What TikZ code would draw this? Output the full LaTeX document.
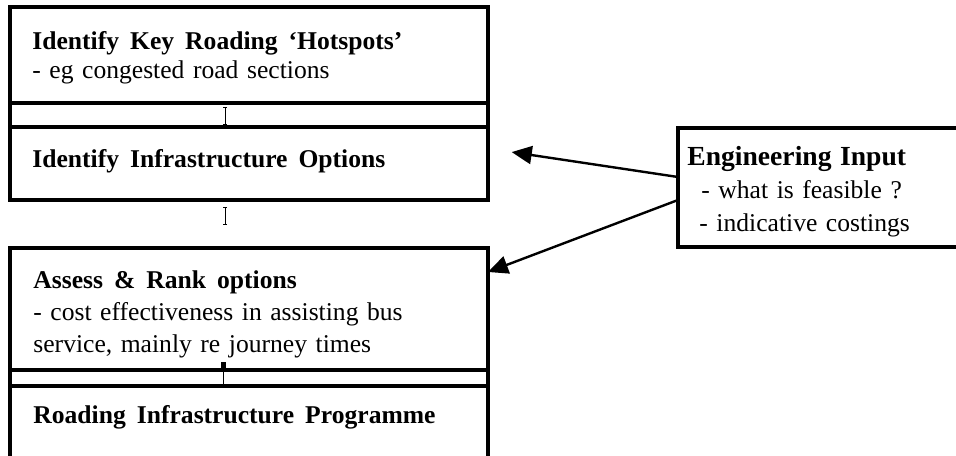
\documentclass[tikz,border=0pt]{standalone}
\usepackage{fontspec}
\setmainfont{Liberation Serif}
\usetikzlibrary{arrows.meta,positioning}

\newcommand{\stage}[1]{{\bfseries\spaceskip=0.43em\relax #1}}

\begin{document}
\begin{tikzpicture}[x=0.5pt,y=-0.5pt,
  box/.style={draw,line width=1.6pt,outer sep=0pt,inner sep=0pt,minimum width=239pt},
  txt/.style={inner sep=0pt,align=left,text width=230pt,font=\fontsize{12.8}{14.5}\selectfont},
  frame/.style={line width=1.6pt},
  tick/.style={line width=0.5pt,{Bar[width=2pt]}-{Bar[width=2pt]}},
  ar/.style={-{Triangle[length=10pt,width=9pt]},line width=1.2pt}]
  \useasboundingbox (0,0) rectangle (956,455);
  \clip (0,0) rectangle (956,455);
  % stages
  \node[box,minimum height=48pt,anchor=north west] (hot) at (10,7) {};
  \node[box,minimum height=36.5pt,below=12pt of hot] (opt) {};
  \node[box,minimum height=61pt,below=24pt of opt] (rank) {};
  \node[box,minimum height=42pt,below=8pt of rank] (prog) {};
  \draw[frame] (hot.south west) -- (opt.north west) (hot.south east) -- (opt.north east);
  \draw[frame] (rank.south west) -- (prog.north west) (rank.south east) -- (prog.north east);
  \node[txt,below right=21pt and 11pt of hot.north west,anchor=base west] (hotT)
    {\stage{Identify Key Roading `Hotspots'}\\- eg congested road sections};
  \node[txt,below right=20pt and 11pt of opt.north west,anchor=base west] (optT)
    {\stage{Identify Infrastructure Options}};
  \node[txt,font=\fontsize{12.8}{16}\selectfont,below right=20pt and 11.5pt of rank.north west,anchor=base west] (rankT)
    {\stage{Assess \& Rank options}\\- cost effectiveness in assisting bus\\service, mainly re journey times};
  \node[txt,below right=18.5pt and 11.5pt of prog.north west,anchor=base west] (progT)
    {\stage{Roading Infrastructure Programme}};
  % links between stages
  \coordinate (ax) at (225,0);
  \coordinate (bx) at (223,0);
  \draw[tick,shorten <=2pt,shorten >=1pt] (hot.south -| ax) -- (opt.north -| ax);
  \draw[tick,shorten <=3.5pt,shorten >=11.5pt] (opt.south -| ax) -- (rank.north -| ax);
  \draw[{Rectangle[length=3pt,width=2.5pt]}-,line width=0.5pt,shorten <=-4pt] (rank.south -| bx) -- (prog.north -| bx);
  % engineering input
  \node[box,minimum width=170pt,minimum height=59.5pt,anchor=north west] (eng) at (678,128) {};
  \node[txt,text width=140pt,font=\fontsize{12.8}{16.5}\selectfont,below right=18.5pt and 4.5pt of eng.north west,anchor=base west] (engT)
    {\textbf{\fontsize{13.8}{16.5}\selectfont Engineering Input}\\\hspace*{7pt}- what is feasible ?\\\hspace*{6pt}- indicative costings};
  \draw[ar,shorten >=12pt] ([yshift=5.25pt]eng.west) -- ([yshift=7.5pt]opt.east);
  \draw[ar] ([yshift=-6.25pt]eng.west) -- ([yshift=18.5pt]rank.east);
\end{tikzpicture}
\end{document}
